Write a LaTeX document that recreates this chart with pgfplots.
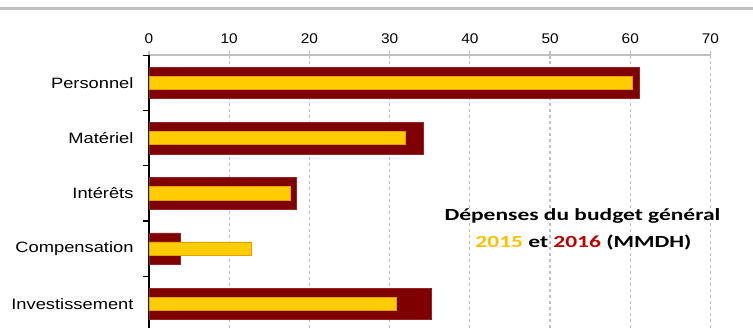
\documentclass[border=0pt]{standalone}
\usepackage{fontspec}
\usepackage{pgfplots}
\pgfplotsset{compat=1.18}
\usetikzlibrary{calc}
\setmainfont{Liberation Sans}
\newfontfamily\catfont[FakeStretch=1.22]{Liberation Sans}
\newfontfamily\tickfont[FakeStretch=1.1]{Liberation Sans}
\newfontfamily\titlefont[FakeStretch=1.38]{Carlito}
\definecolor{darkred}{HTML}{7F0000}
\definecolor{gold}{HTML}{FFCC00}
\definecolor{goldedge}{HTML}{E0A000}
\definecolor{c2015}{HTML}{FFC000}
\definecolor{c2016}{HTML}{C00000}
\definecolor{gridgray}{HTML}{BFBFBF}
\begin{document}
\begin{tikzpicture}[x=1pt,y=1pt]
\begin{axis}[
  scale only axis, width=561.5pt, height=276.25pt,
  xmin=0, xmax=70, ymin=-0.5, ymax=4.5, y dir=reverse,
  axis x line*=top, axis y line*=left,
  xtick={0,10,...,70},
  ytick={0,1,2,3,4},
  yticklabels={Personnel,Matériel,Intérêts,Compensation,Investissement},
  minor ytick={-0.5,0.5,1.5,2.5,3.5,4.5},
  tick align=center,
  major tick length=8pt, minor tick length=6pt,
  every major y tick/.append style={draw=none},
  every minor y tick/.append style={black, line width=1.2pt, xshift=-3pt},
  every major x tick/.append style={gridgray, line width=1.2pt},
  xmajorgrids,
  major x grid style={dashed, gridgray, line width=1.2pt},
  x axis line style={gridgray, line width=2pt, -},
  y axis line style={black, line width=2pt, -},
  /pgf/number format/assume math mode=true,
  xticklabel style={font=\tickfont\fontsize{14}{16}\selectfont, text=black, yshift=4.5pt},
  yticklabel style={font=\catfont\fontsize{15}{18}\selectfont, text=black, xshift=-8pt},
  clip=false,
]
\addplot[xbar, bar width=31.6pt, bar shift=0pt, fill=darkred, draw=darkred!85!white, line width=0.5pt]
  coordinates {(61.1,0) (34.2,1) (18.3,2) (3.9,3) (35.2,4)};
\addplot[xbar, bar width=13.3pt, bar shift=0pt, fill=gold, draw=goldedge, line width=0.6pt]
  coordinates {(60.2,0) (32.0,1) (17.6,2) (12.8,3) (30.8,4)};
\coordinate (tl) at (axis cs:0,-0.5);
\end{axis}
\pgfresetboundingbox
\path[use as bounding box] ($(tl)+(-149,55.2)$) rectangle ++(753,-327);
\fill[gridgray] ($(tl)+(-149,47.7)$) rectangle ++(753,-2.6);
\node[font=\titlefont\bfseries\fontsize{17}{20}\selectfont, inner sep=0pt] at ($(tl)+(433.5,-160.8)$) {Dépenses du budget général};
\node[font=\titlefont\bfseries\fontsize{17}{20}\selectfont, inner sep=0pt] at ($(tl)+(434.5,-186.8)$) {\textcolor{c2015}{2015} et \textcolor{c2016}{2016} (MMDH)};
\end{tikzpicture}
\end{document}
